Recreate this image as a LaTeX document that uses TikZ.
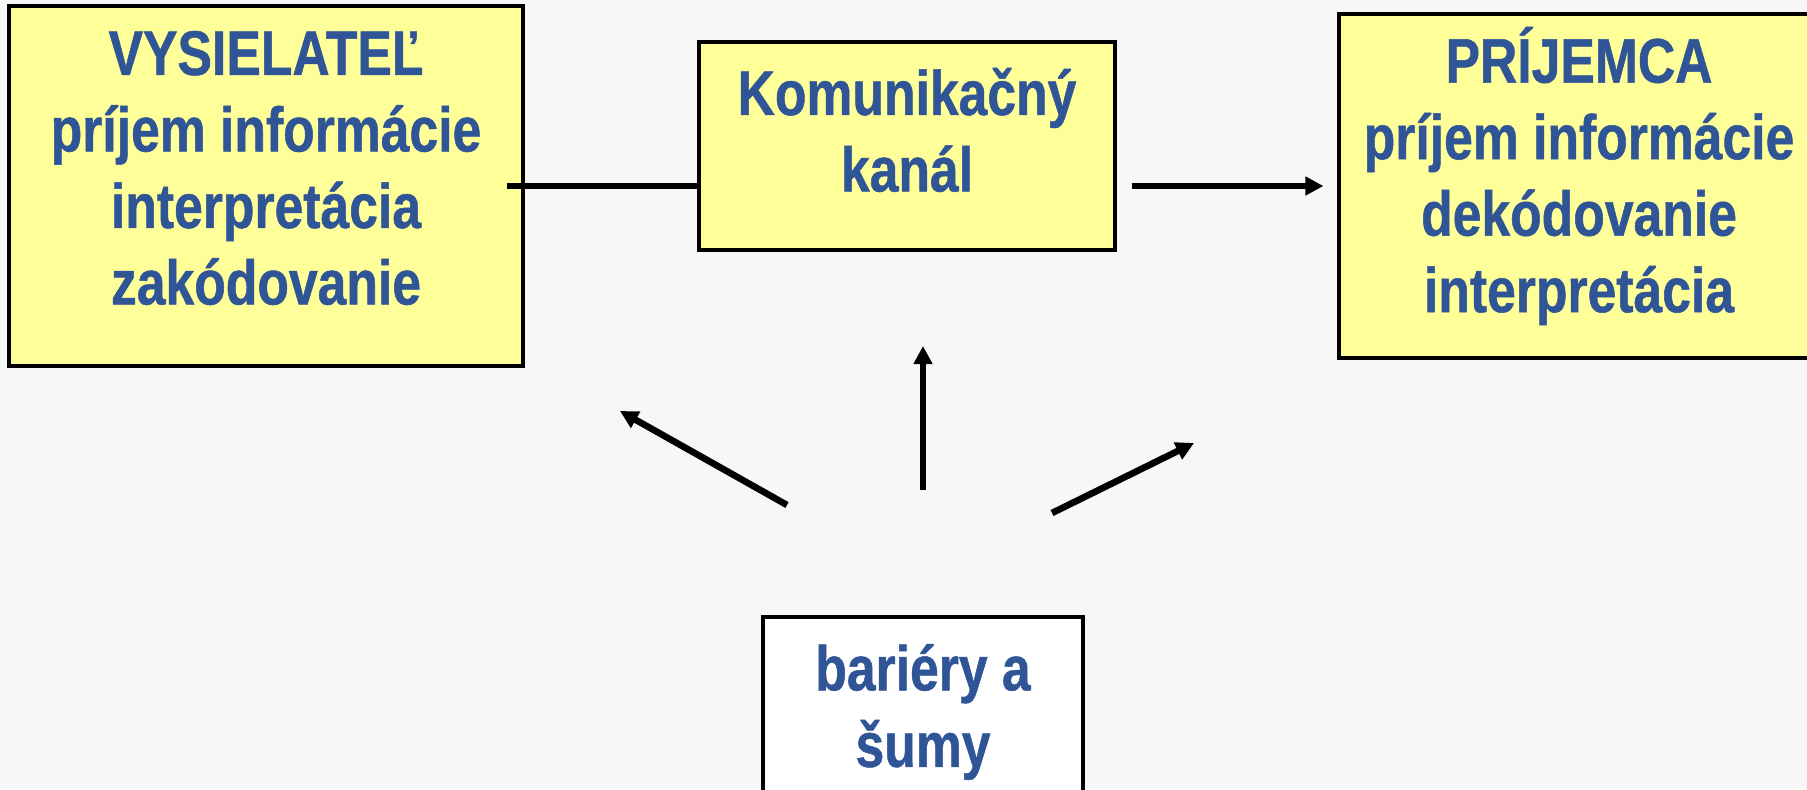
\documentclass[tikz,border=0pt]{standalone}
\usepackage{fontspec}
\newfontfamily\boxfont[FakeStretch=0.82,FakeBold=0.8]{Liberation Sans}
\usetikzlibrary{arrows.meta}
\definecolor{txtblue}{RGB}{47,85,151}
\definecolor{boxyellow}{RGB}{255,255,153}
\definecolor{bgpaper}{RGB}{247,247,247}
\begin{document}
\begin{tikzpicture}[x=0.5pt,y=-0.5pt,
  panel/.style={draw=black,line width=1.6pt,rectangle,inner sep=0pt},
  ypanel/.style={panel,fill=boxyellow},
  wpanel/.style={panel,fill=white},
  boxtext/.style={font={\boxfont\bfseries\fontsize{31.5pt}{38.25pt}\selectfont},text=txtblue,align=center,inner sep=0pt},
  conn/.style={line width=3.3pt},
  arr/.style={conn,-{Triangle[length=9pt,width=9pt]}}]
\clip (0,0) rectangle (1807,789);
\fill[bgpaper] (0,0) rectangle (1807,789);
% boxes
\node[ypanel,minimum width=257pt,minimum height=180pt] (lbox) at (266,186) {};
\node[ypanel,minimum width=208pt,minimum height=104pt] (mbox) at (907,146) {};
\node[ypanel,minimum width=240pt,minimum height=172pt] (rbox) at (1579,186) {};
\node[wpanel,minimum width=160pt,minimum height=100pt] (bbox) at (923,717) {};
% texts
\node[boxtext] (ltxt) at (266,168) {VYSIELATEĽ\\príjem informácie\\interpretácia\\zakódovanie};
\node[boxtext] (mtxt) at (907,130) {Komunikačný\\kanál};
\node[boxtext] (rtxt) at (1579,176) {PRÍJEMCA\\príjem informácie\\dekódovanie\\interpretácia};
\node[boxtext] (btxt) at (923,712) {bariéry a\\šumy};
% connectors
\draw[conn] ([xshift=-8.8pt]lbox.east) -- (lbox.east -| mbox.west);
\draw[arr,shorten <=7.5pt,shorten >=7pt] (mbox.east |- rbox.west) -- (rbox.west);
% noise arrows
\coordinate (nl0) at (787,505);
\coordinate (nl1) at (620,411);
\coordinate (nu0) at (923,490);
\coordinate (nu1) at (923,346);
\coordinate (nr0) at (1052,513);
\coordinate (nr1) at (1194,443);
\draw[arr] (nl0) -- (nl1);
\draw[arr] (nu0) -- (nu1);
\draw[arr] (nr0) -- (nr1);
\end{tikzpicture}
\end{document}
